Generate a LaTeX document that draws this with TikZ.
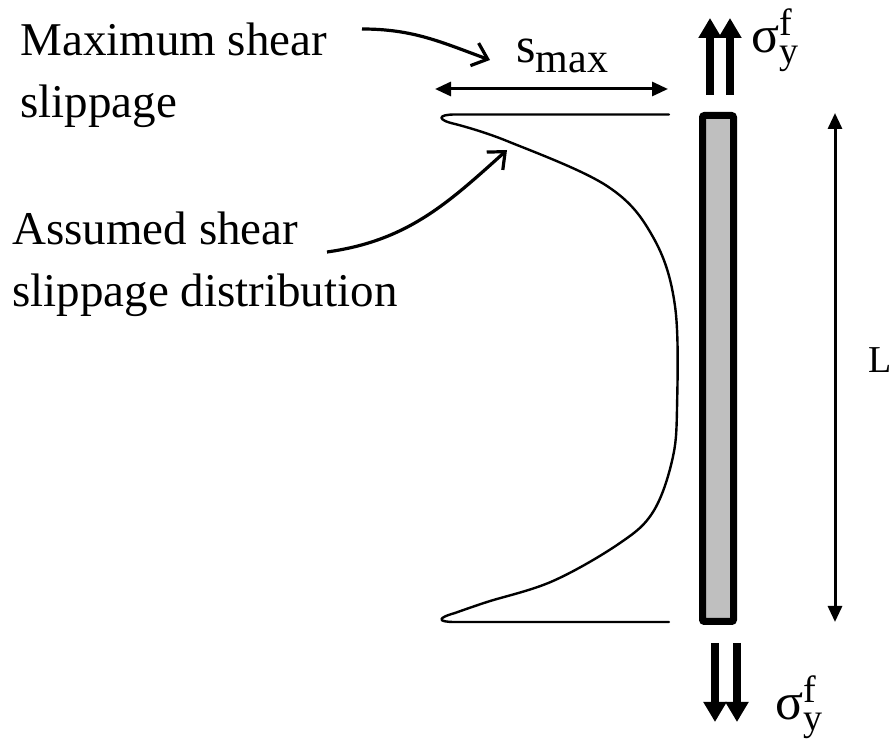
\documentclass[tikz,border=0pt]{standalone}
\usepackage{fontspec}
\setmainfont{Liberation Serif}
\usetikzlibrary{arrows.meta}
\newcommand{\sigyf}{{\fontsize{26}{26}\selectfont σ}\rlap{\raisebox{8.5pt}{\fontsize{19}{19}\selectfont f}}\raisebox{-5.5pt}{\fontsize{19}{19}\selectfont y}}

\begin{document}
\begin{tikzpicture}[x=0.5pt, y=0.5pt,
        lbl/.style={font=\fontsize{23.5}{31}\selectfont, align=left, inner sep=0pt},
        pointer/.style={line width=1.6pt, -{Straight Barb[length=7pt,width=12pt]}},
        dim/.style={line width=1.5pt, {Triangle[length=8pt,width=7pt]}-{Triangle[length=8pt,width=7pt]}},
        force/.style={line width=4pt, -{Triangle[length=10pt,width=11pt]}},
        curve/.style={line width=1.2pt, line cap=round, line join=round}]
        \useasboundingbox (0,0) rectangle (891,740);
        % texts
        \node[lbl, anchor=base west] (maxlbl) at (20,622) {Maximum shear\\slippage};
        \node[lbl, anchor=base west] (assumedlbl) at (12,433) {Assumed shear\\slippage distribution};
        \node[anchor=base west, inner sep=0pt] (smax) at (516,677) {\fontsize{25}{25}\selectfont s\raisebox{-5pt}{\fontsize{21}{21}\selectfont max}};
        \node[anchor=base west, inner sep=0pt] (sigtop) at (751,687) {\sigyf};
        \node[anchor=base west, inner sep=0pt] (sigbot) at (775,20) {\sigyf};
        \node[anchor=base west, inner sep=0pt, font=\fontsize{19}{19}\selectfont] (Llbl) at (868,367) {L};
        % fibre
        \node[draw, line width=3.5pt, fill=black!25, rounded corners=1pt, inner sep=0pt,
            minimum width=15.5pt, minimum height=253pt] (bar) at (718,371.5) {};
        \foreach \x in {710,730}
            \draw[force] (\x,645) -- (\x,722);
        \foreach \x in {715,737}
            \draw[force] (\x,97) -- (\x,18);
        % slippage profile
        \draw[curve] (669,625.5) -- (455,625.5) .. controls (437,625.5) and (437,620) .. (455,616);
        \draw[curve] plot[smooth, tension=0.6] coordinates {(455,616) (507,599) (607,554) (653,503)
            (675,434) (677,331) (672,279) (653,228) (620,197) (553,159) (487,138) (455,127)};
        \draw[curve] (455,127) .. controls (437,122) and (437,118) .. (455,118) -- (669,118);
        % dimensions
        \coordinate (smaxL) at (435,651);
        \coordinate (smaxR) at (668,651);
        \draw[dim] (smaxL) -- (smaxR);
        \coordinate (Ltop) at (835,627);
        \coordinate (Lbot) at (835,118);
        \draw[dim] (Ltop) -- (Lbot);
        % pointers
        \coordinate (maxfrom) at (362,711);
        \coordinate (maxto) at (490,680);
        \draw[pointer] (maxfrom) to[out=0, in=160] (maxto);
        \coordinate (assumedfrom) at (327,488);
        \coordinate (assumedto) at (507,590);
        \draw[pointer] (assumedfrom) to[out=8, in=222] (assumedto);
\end{tikzpicture}
\end{document}
